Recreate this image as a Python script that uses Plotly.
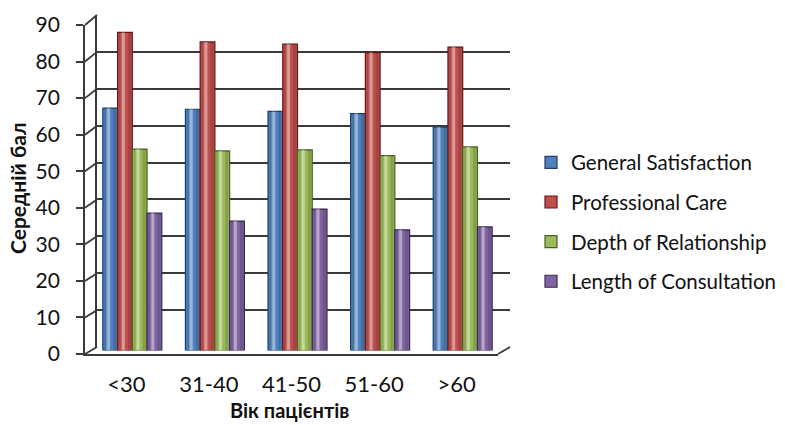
import plotly.graph_objects as go

# ---- data ----
age_groups = ["<30", "31-40", "41-50", "51-60", ">60"]
series_names = ["General Satisfaction", "Professional Care",
                "Depth of Relationship", "Length of Consultation"]
general_satisfaction = [66.3, 66.0, 65.4, 64.8, 61.1]
professional_care = [87.0, 84.4, 83.8, 81.5, 83.0]
depth_of_relationship = [55.1, 54.6, 54.9, 53.3, 55.7]
length_of_consultation = [37.6, 35.4, 38.7, 33.0, 33.8]
y_ticks = [0, 10, 20, 30, 40, 50, 60, 70, 80, 90]

series_values = [general_satisfaction, professional_care,
                 depth_of_relationship, length_of_consultation]
fill_colors = ["#4F81BD", "#C0504D", "#9BBB59", "#8064A2"]
edge_colors = ["#1F3F66", "#641816", "#4A6124", "#392856"]

W, H = 785, 425
Y_MAX = 90


def px_x(a, b):
    return [a / W, b / W]


def px_y(bottom, top):
    # pixel rows measured from the top of the page
    return [1 - bottom / H, 1 - top / H]


# three layers of the pseudo-3D box: back wall, bars (mid depth), front axes
back_x, back_y = px_x(97, 510), px_y(347, 15)
bar_x, bar_y = px_x(91, 504), px_y(350.5, 21.5)
front_x, front_y = px_x(85, 498), px_y(354, 25)

GRID = "#3a3a3a"
GRID_W = 1.8
FONT = "Lato"
TXT = "#111111"
CAT_RANGE = [-0.5, len(age_groups) - 0.5]

# bar geometry inside one category slot (category width = 1)
GROUP_W = 0.714
BAR_W = GROUP_W / len(series_names)

fig = go.Figure()

# back wall (carries the horizontal gridlines)
fig.add_trace(go.Scatter(x=[0], y=[0], xaxis="x", yaxis="y", mode="markers",
                         marker=dict(opacity=0), showlegend=False,
                         hoverinfo="skip"))

# bars, with light/dark stripes on top to give a cylindrical look
for i, (name, vals, fc, ec) in enumerate(zip(series_names, series_values,
                                              fill_colors, edge_colors)):
    left = -GROUP_W / 2 + i * BAR_W
    fig.add_trace(go.Bar(
        x=age_groups, y=vals, name=name, xaxis="x2", yaxis="y2",
        offset=left, width=BAR_W, legendgroup=name,
        marker=dict(color=fc, line=dict(color=ec, width=1.2)),
    ))
    stripes = [
        (0.08, 0.17, "rgba(0,0,0,0.10)"),
        (0.22, 0.26, "rgba(255,255,255,0.18)"),
        (0.30, 0.20, "rgba(255,255,255,0.30)"),
        (0.70, 0.22, "rgba(0,0,0,0.14)"),
    ]
    for start, frac, col in stripes:
        fig.add_trace(go.Bar(
            x=age_groups, y=vals, xaxis="x2", yaxis="y2",
            offset=left + start * BAR_W, width=frac * BAR_W,
            marker=dict(color=col, line=dict(width=0)),
            legendgroup=name, showlegend=False, hoverinfo="skip",
        ))

# front axes (tick labels, axis lines)
fig.add_trace(go.Scatter(x=age_groups, y=[0] * len(age_groups), xaxis="x3",
                         yaxis="y3", mode="markers", marker=dict(opacity=0),
                         showlegend=False, hoverinfo="skip"))

shapes = []
# side-wall connectors between front axis ticks and back-wall gridlines
for v in y_ticks:
    yf = front_y[0] + (front_y[1] - front_y[0]) * v / Y_MAX
    yb = back_y[0] + (back_y[1] - back_y[0]) * v / Y_MAX
    shapes.append(dict(type="line", xref="paper", yref="paper",
                       x0=front_x[0], y0=yf, x1=back_x[0], y1=yb,
                       line=dict(color=GRID, width=GRID_W), layer="below"))
# floor right edge
shapes.append(dict(type="line", xref="paper", yref="paper",
                   x0=front_x[1], y0=front_y[0], x1=back_x[1], y1=back_y[0],
                   line=dict(color=GRID, width=GRID_W), layer="below"))

annotations = [
    dict(text="<b>Середній бал</b>", xref="paper", yref="paper",
         x=17 / W, y=1 - 188 / H, xanchor="center", yanchor="middle",
         textangle=-90, showarrow=False,
         font=dict(family=FONT, size=21, color=TXT)),
    dict(text="<b>Вік пацієнтів</b>", xref="paper", yref="paper",
         x=289 / W, y=1 / H, xanchor="center", yanchor="bottom",
         showarrow=False, font=dict(family=FONT, size=20, color=TXT)),
]

fig.update_layout(
    width=W, height=H,
    margin=dict(l=0, r=0, t=0, b=0),
    paper_bgcolor="white", plot_bgcolor="rgba(0,0,0,0)",
    font=dict(family=FONT, size=18, color=TXT),
    barmode="overlay",
    shapes=shapes, annotations=annotations,
    showlegend=True,
    legend=dict(x=531 / W, y=1 - 222 / H, xanchor="left", yanchor="middle",
                font=dict(family=FONT, size=20.5, color=TXT),
                tracegroupgap=10, itemwidth=30, bgcolor="rgba(0,0,0,0)"),
    xaxis=dict(domain=back_x, anchor="y", range=[0, 1], showgrid=False,
               zeroline=False, showticklabels=False, showline=False,
               automargin=False, fixedrange=True),
    yaxis=dict(domain=back_y, anchor="x", range=[0, Y_MAX], tickvals=y_ticks,
               showgrid=True, gridcolor=GRID, gridwidth=GRID_W, zeroline=False,
               showticklabels=False, showline=True, linecolor=GRID,
               linewidth=GRID_W, automargin=False, fixedrange=True),
    xaxis2=dict(domain=bar_x, anchor="y2", type="category",
                categoryarray=age_groups, range=CAT_RANGE, showgrid=False,
                zeroline=False, showticklabels=False, showline=False,
                automargin=False),
    yaxis2=dict(domain=bar_y, anchor="x2", range=[0, Y_MAX], showgrid=False,
                zeroline=False, showticklabels=False, showline=False,
                automargin=False),
    xaxis3=dict(domain=front_x, anchor="y3", type="category",
                categoryarray=age_groups, range=CAT_RANGE, showgrid=False,
                zeroline=False, showline=True, linecolor=GRID,
                linewidth=GRID_W, ticks="", ticklabelstandoff=10,
                automargin=False,
                tickfont=dict(family=FONT, size=22, color=TXT)),
    yaxis3=dict(domain=front_y, anchor="x3", range=[0, Y_MAX],
                tickvals=y_ticks, showgrid=False, zeroline=False,
                showline=True, linecolor=GRID, linewidth=GRID_W,
                ticks="outside", ticklen=7, tickcolor=GRID, tickwidth=GRID_W,
                ticklabelstandoff=12, automargin=False,
                tickfont=dict(family=FONT, size=21, color=TXT)),
)

fig.write_html("out.html")
